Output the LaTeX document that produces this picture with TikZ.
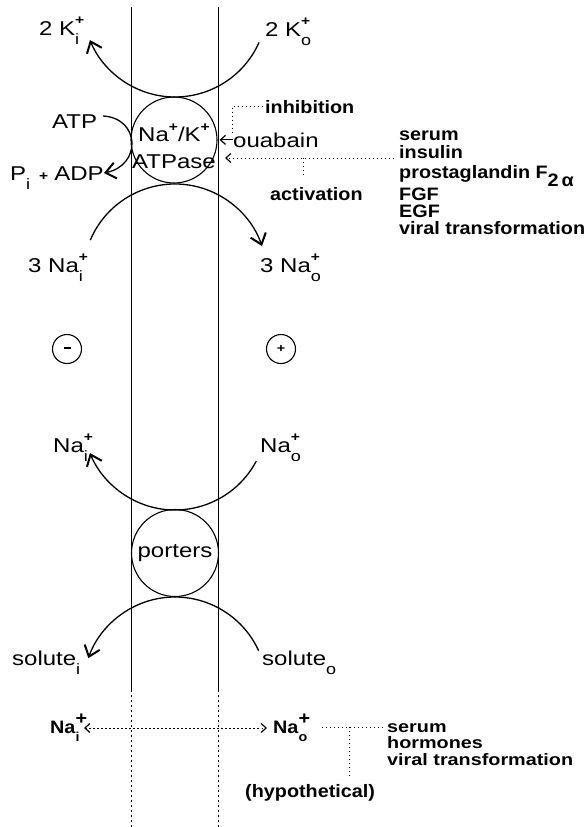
\documentclass[tikz,border=0pt]{standalone}
\usepackage{fontspec}
\setmainfont{Liberation Sans}[FakeStretch=1.2]
\newfontfamily\lstf{Liberation Sans}[FakeStretch=1.1]
\newfontfamily\lstfw{Liberation Sans}[FakeStretch=1.2]
\usetikzlibrary{arrows.meta,calc}
\newcommand\supsub[2]{\makebox[0pt][l]{\raisebox{0.52em}{\bfseries\fontsize{13}{13}\selectfont #1}}\raisebox{-0.45em}{\fontsize{15}{15}\selectfont #2}}
\newcommand\spp[1]{\raisebox{0.52em}{\bfseries\fontsize{13}{13}\selectfont #1}}
\tikzset{
  lbl/.style={anchor=base west, inner sep=0pt, font=\fontsize{20}{20}\selectfont},
  lst/.style={anchor=base west, inner sep=0pt, font=\lstf\bfseries\fontsize{18}{18}\selectfont},
  lstb/.style={anchor=base west, inner sep=0pt, font=\lstfw\bfseries\fontsize{16.5}{16.5}\selectfont},
  memb/.style={line width=0.8pt},
  membdot/.style={line width=0.8pt, dash pattern=on 2pt off 3pt},
  dotl/.style={line width=0.9pt, dash pattern=on 1.4pt off 2.6pt},
  arcl/.style={line width=1.3pt},
  barb/.style={-{Straight Barb[length=10pt,width=16pt,line width=2pt]}},
  smallbarb/.style={-{Straight Barb[length=5pt,width=9pt,line width=1.2pt]}},
  ring/.style={circle, draw, line width=1.1pt, inner sep=0pt},
}
\begin{document}
\begin{tikzpicture}[x=1pt,y=-1pt]
\useasboundingbox (0,0) rectangle (584,827);
% membrane
\coordinate (mlt) at (131,7); \coordinate (mlb) at (131,690); \coordinate (mle) at (131,827);
\coordinate (mrt) at (218,7); \coordinate (mrb) at (218,690); \coordinate (mre) at (218,827);
\draw[memb] (mlt) -- (mlb); \draw[membdot] (mlb) -- (mle);
\draw[memb] (mrt) -- (mrb); \draw[membdot] (mrb) -- (mre);

% ATPase
\node[ring, minimum size=86pt] (atpase) at (174,140) {};
\node[inner sep=0pt, align=center, font=\fontsize{20}{27}\selectfont] (atptext) at (174,146) {Na\spp{+}/K\spp{+}\\ATPase};

% top K arc
\coordinate (ctop) at (175,5);
\draw[arcl,barb] ([shift={(-24:92pt)}]ctop) arc[start angle=-24,end angle=-157.6,radius=92pt];
\node[lbl] (ki) at (39,35) {2 K\supsub{+}{i}};
\node[lbl] (ko) at (265,36) {2 K\supsub{+}{o}};

% bottom Na arc of pump
\coordinate (cna) at (175,276);
\draw[arcl,barb] ([shift={(157:92pt)}]cna) arc[start angle=157,end angle=19,radius=92pt];
\node[lbl] (nai3) at (28,272) {3 Na\supsub{+}{i}};
\node[lbl] (nao3) at (260,272) {3 Na\supsub{+}{o}};

% ATP
\node[lbl] (atp) at (52,128) {ATP};
\node[lbl] (padp) at (10,180) {P\supsub{}{i}\hspace{9pt}{\bfseries\fontsize{13}{13}\selectfont +}\hspace{6pt}ADP};
\coordinate (atps) at (103,116);
\coordinate (adpe) at (104,173);
\draw[arcl,barb] (atps) .. controls (140,118) and (142,165) .. (adpe);

% ouabain / inhibition
\node[lbl] (ouab) at (233,147) {ouabain};
\draw[line width=0.8pt,smallbarb,shorten >=2pt] (ouab.west) -- (ouab.west -| atpase.east);
\node[lst] (inhib) at (265,113) {inhibition};
\coordinate (inhibend) at (232,133);
\draw[dotl,shorten <=2pt] (inhib.west) -| (inhibend);

% activation
\node[lst] (act) at (270,200) {activation};
\coordinate (actR) at (394,158);
\coordinate (actL) at (225,158);
\coordinate (actJ) at (303,158);
\coordinate (actB) at (303,177);
\draw[dotl,smallbarb] (actR) -- (actL);
\draw[dotl] (actJ) -- (actB);

% list
\node[lst] (l1) at (399,140) {serum};
\node[lst] (l2) at (399,158) {insulin};
\node[lst] (l3) at (399,178) {prostaglandin F\raisebox{-0.45em}{2\,α}};
\node[lst] (l4) at (399,200) {FGF};
\node[lst] (l5) at (399,217) {EGF};
\node[lst] (l6) at (399,234) {viral transformation};

% membrane potential
\node[ring, minimum size=29pt] (neg) at (67,349) {\rule[2.5pt]{7pt}{1.6pt}};
\node[ring, minimum size=29pt, font=\bfseries\fontsize{12}{12}\selectfont] (pos) at (281,349) {+};

% porters
\node[ring, minimum size=87pt, font=\fontsize{20}{20}\selectfont] (port) at (175,553) {porters};
\coordinate (cnaup) at (175,418);
\draw[arcl,barb] ([shift={(-28:92pt)}]cnaup) arc[start angle=-28,end angle=-157.6,radius=92pt];
\node[lbl] (nai) at (53,452) {Na\supsub{+}{i}};
\node[lbl] (nao) at (260,452) {Na\supsub{+}{o}};
\coordinate (csol) at (175,689);
\draw[arcl,barb] ([shift={(24.6:92pt)}]csol) arc[start angle=24.6,end angle=160.4,radius=92pt];
\node[lbl] (soli) at (12,665) {solute\supsub{}{i}};
\node[lbl] (solo) at (262,665) {solute\supsub{}{o}};

% bottom hypothetical
\node[lst] (naib) at (50,733) {Na\makebox[0pt][l]{\raisebox{0.5em}{+}}\raisebox{-0.45em}{\fontsize{13}{13}\selectfont i}};
\node[lst] (naob) at (273,733) {Na\makebox[0pt][l]{\raisebox{0.5em}{+}}\raisebox{-0.45em}{\fontsize{13}{13}\selectfont o}};
\coordinate (dl) at (84,728);
\coordinate (dr) at (267,728);
\draw[dotl,{Straight Barb[length=5pt,width=9pt,line width=1.2pt]}-{Straight Barb[length=5pt,width=9pt,line width=1.2pt]}] (dl) -- (dr);
\node[lstb] (m1) at (387,732) {serum};
\node[lstb] (m2) at (387,748) {hormones};
\node[lstb] (m3) at (387,765) {viral transformation};
\node[lst] (hyp) at (245,797) {(hypothetical)};
\coordinate (hL) at (322,727);
\coordinate (hR) at (384,727);
\coordinate (hJ) at (349,727);
\coordinate (hB) at (349,776);
\draw[dotl] (hL) -- (hR);
\draw[dotl] (hJ) -- (hB);
\end{tikzpicture}
\end{document}
